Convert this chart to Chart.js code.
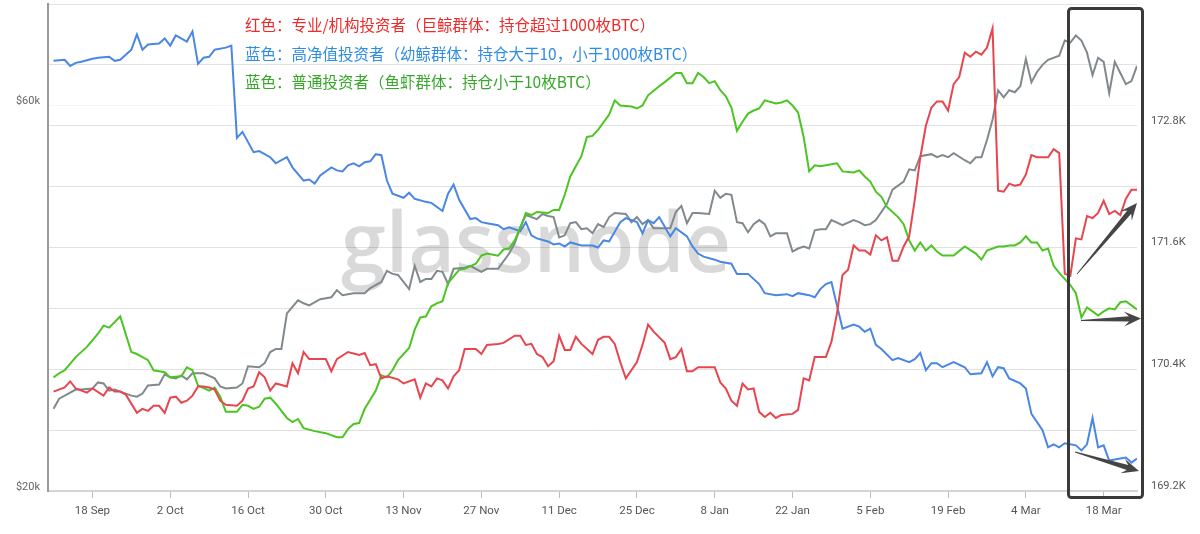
<!DOCTYPE html>
<html>
<head>
<meta charset="utf-8">
<script src="https://cdn.jsdelivr.net/npm/chart.js@4.4.1/dist/chart.umd.min.js"></script>
<style>
    html, body { margin: 0; padding: 0; background: #fff; }
    #wrap { position: relative; width: 1200px; height: 534px; overflow: hidden; }
    #chart { position: absolute; left: 0; top: 0; }
    .note {
        position: absolute;
        left: 245px;
        font-family: "Noto Sans CJK SC", sans-serif;
        font-size: 15.5px;
        line-height: 28px;
        white-space: nowrap;
    }
</style>
</head>
<body>
<div id="wrap">
    <canvas id="chart" width="1200" height="534"></canvas>
    <div class="note" style="top: 10px; color: #ee2a2a;">红色：专业/机构投资者（巨鲸群体：持仓超过1000枚BTC）</div>
    <div class="note" style="top: 39px; color: #2e8ce4;">蓝色：高净值投资者（幼鲸群体：持仓大于10，小于1000枚BTC）</div>
    <div class="note" style="top: 67px; color: #35a829;">蓝色：普通投资者（鱼虾群体：持仓小于10枚BTC）</div>
</div>
<script>
// x = days since 11 Sep 2023
const tickDays = [7, 21, 35, 49, 63, 77, 91, 105, 119, 133, 147, 161, 175, 189];
const tickLabels = ["18 Sep", "2 Oct", "16 Oct", "30 Oct", "13 Nov", "27 Nov", "11 Dec",
    "25 Dec", "8 Jan", "22 Jan", "5 Feb", "19 Feb", "4 Mar", "18 Mar"];

const rightTickValues = [169.2, 169.8, 170.4, 171.0, 171.6, 172.2, 172.8, 173.4, 174.0];
const rightTickLabels = ["169.2K", "", "170.4K", "", "171.6K", "", "172.8K", "", ""];
const leftTickValues = [20000, 60000];
const leftTickLabels = ["$20k", "$60k"];

// blue: 10 - 1000 BTC
const blueDays = [0,2,3,4,5,7,8,10,11,12, 14,15,16,17,19,20,21,22,24,25, 26,27,28,29,31,32,33,34,36,37,
    39,40,42,43,45,46,47,48,50,51, 52,53,54,55,56,57,58,59,60,61, 63,64,65,67,68,70,71,72,73,75,
    76,77,78,80,81,82,84,85,86,87, 89,90,91,92,93,95,97,98,99,100, 102,103,105,106,107,108,109,111,112,114,
    115,116,117,119,120,122,123,125,127,128, 130,132,133,134,136,137,138,139,140,142, 144,145,146,147,148,149,151,152,154,155,
    156,157,158,159,160,162,164,165,167,168, 169,170,171,172,174,175,176,178,179,180, 181,182,184,185,186,187,188,189,190,191,
    193,194,195];
const blueVals = [173.44,173.45,173.39,173.42,173.43,173.46,173.47,173.48,173.44,173.45,
    173.55,173.70,173.55,173.60,173.61,173.66,173.59,173.69,173.63,173.73,
    173.41,173.47,173.48,173.55,173.57,173.59,172.68,172.74,172.54,172.55,
    172.49,172.43,172.49,172.39,172.26,172.27,172.23,172.31,172.39,172.36,
    172.35,172.41,172.43,172.40,172.44,172.45,172.52,172.51,172.26,172.13,
    172.09,172.14,172.08,172.05,172.04,171.96,172.13,172.22,172.07,171.88,
    171.89,171.85,171.84,171.82,171.78,171.80,171.76,171.85,171.72,171.69,
    171.66,171.63,171.64,171.61,171.65,171.62,171.62,171.60,171.67,171.66,
    171.85,171.89,171.85,171.74,171.87,171.84,171.90,171.71,171.79,171.71,
    171.61,171.54,171.51,171.48,171.46,171.44,171.34,171.34,171.24,171.15,
    171.13,171.14,171.12,171.15,171.13,171.11,171.19,171.24,171.26,170.80,
    170.84,170.82,170.77,170.80,170.64,170.60,170.49,170.51,170.47,170.50,
    170.56,170.39,170.46,170.46,170.42,170.47,170.42,170.35,170.36,170.47,
    170.33,170.42,170.41,170.31,170.26,170.21,169.96,169.80,169.63,169.66,
    169.63,169.67,169.65,169.60,169.66,169.92,169.63,169.65,169.50,169.51,
    169.53,169.48,169.52];

// red: > 1000 BTC
const redDays = [0,2,3,4,6,7,9,10,11,12, 13,15,16,17,18,19,20,21,22,23, 24,25,26,27,28,29,30,31,33,34,
    35,36,37,38,39,40,42,43,44,45, 46,49,50,51,53,55,56,57,58,59, 60,62,63,65,66,67,68,69,70,71,
    72,73,74,76,77,78,80,81,83,84, 85,86,87,88,89,90,91,92,93,94, 95,97,98,99,100,101,102,103,105,106,
    107,108,110,111,112,113,114,115,116,118, 119,120,121,122,123,124,125,126,127,128, 129,130,131,133,134,135,136,137,139,140,
    141,142,143,144,145,146,147,148,149,150, 151,152,153,154,155,156,157,158,159,160, 161,162,163,164,165,166,167,168,169,170,
    171,172,173,174,175,176,177,179,180,181, 182,183,184,185,186,187,188,189,190,191, 192,193,194,195];
const redVals = [170.18,170.22,170.28,170.21,170.17,170.21,170.14,170.22,170.18,170.18,
    170.15,169.97,170.01,169.99,170.04,170.04,169.97,170.12,170.13,170.07,
    170.09,170.14,170.23,170.23,170.22,170.20,170.09,170.05,170.04,170.09,
    170.21,170.23,170.37,170.32,170.19,170.26,170.23,170.46,170.36,170.57,
    170.50,170.50,170.38,170.50,170.57,170.54,170.56,170.44,170.45,170.31,
    170.33,170.30,170.26,170.30,170.12,170.26,170.23,170.31,170.29,170.21,
    170.33,170.39,170.60,170.60,170.55,170.64,170.65,170.66,170.73,170.73,
    170.64,170.65,170.55,170.52,170.43,170.48,170.73,170.59,170.59,170.72,
    170.65,170.55,170.69,170.72,170.72,170.65,170.47,170.31,170.47,170.64,
    170.84,170.77,170.66,170.50,170.52,170.60,170.38,170.38,170.42,170.42,
    170.42,170.27,170.21,170.09,170.04,170.26,170.20,170.21,169.98,169.93,
    169.97,169.92,169.95,169.96,170.00,170.31,170.29,170.52,170.52,170.67,
    170.95,171.33,171.38,171.62,171.57,171.57,171.53,171.72,171.67,171.70,
    171.47,171.47,171.61,171.71,172.07,172.49,172.80,172.98,173.04,173.04,
    172.95,173.21,173.28,173.52,173.48,173.53,173.50,173.57,173.76,172.16,
    172.15,172.23,172.21,172.22,172.32,172.51,172.49,172.49,172.57,172.53,
    171.34,171.32,171.69,171.68,171.91,171.89,171.94,172.06,171.93,171.96,
    171.92,172.08,172.17,172.17];

// green: < 10 BTC
const greenDays = [0,1,2,4,6,8,9,10,12,14, 15,17,18,20,21,23,24,25,26,28, 29,30,31,33,34,35,36,37,38,39,
    40,42,43,44,45,47,49,51,52,53, 54,55,56,58,59,60,61,62,64,65, 66,67,68,69,70,71,73,74,76,77,
    78,80,81,82,83,84,85,86,87,89, 90,91,92,93,94,95,96,97,98,100, 101,102,104,105,106,107,109,110,112,113,
    114,115,116,117,118,119,120,121,122,123, 124,125,126,127,128,130,131,132,133,134, 135,136,137,138,140,141,142,144,145,146,
    147,148,149,150,152,153,154,155,156,157, 158,159,160,162,164,166,167,168,170,171, 172,173,174,175,176,177,178,179,180,181,
    183,184,185,186,187,188,189,190,191,192, 193,194,195];
const greenVals = [170.32,170.36,170.39,170.52,170.62,170.75,170.83,170.81,170.92,170.57,
    170.55,170.49,170.39,170.37,170.32,170.33,170.42,170.39,170.24,170.19,
    170.22,170.13,169.98,169.98,170.05,170.04,170.01,170.03,170.11,170.12,
    170.06,169.92,169.88,169.91,169.82,169.79,169.77,169.73,169.73,169.81,
    169.86,169.87,170.01,170.19,170.34,170.32,170.39,170.49,170.61,170.79,
    170.91,170.92,171.02,171.05,171.07,171.25,171.38,171.39,171.44,171.52,
    171.54,171.52,171.58,171.59,171.67,171.79,171.94,171.92,171.95,171.94,
    171.97,171.97,172.12,172.30,172.40,172.50,172.69,172.70,172.76,172.91,
    173.05,173.00,172.99,172.97,173.00,173.10,173.19,173.23,173.32,173.32,
    173.22,173.22,173.32,173.28,173.22,173.24,173.15,173.09,172.98,172.75,
    172.84,172.92,172.95,172.97,173.05,173.02,173.03,173.05,173.00,172.93,
    172.69,172.35,172.41,172.40,172.42,172.43,172.35,172.34,172.36,172.30,
    172.25,172.15,172.10,172.00,171.90,171.83,171.67,171.57,171.65,171.57,
    171.62,171.56,171.52,171.52,171.61,171.54,171.48,171.57,171.61,171.61,
    171.62,171.62,171.65,171.71,171.65,171.65,171.57,171.59,171.42,171.35,
    171.23,171.15,170.91,171.01,170.97,170.93,170.97,171.00,170.99,171.06,
    171.07,171.03,170.99];

// gray: price
const grayDays = [0,1,3,4,5,7,8,9,10,11, 12,14,15,16,17,19,20,21,22,23, 24,25,27,29,30,31,33,34,35,37,
    38,39,40,41,42,44,45,46,48,50, 51,52,53,54,56,57,59,60,61,62, 64,65,66,67,68,69,70,71,72,74,
    75,77,78,80,82,83,84,85,87,88, 89,90,91,92,93,94,95,96,97,98, 99,100,101,103,104,105,106,107,108,110,
    111,112,113,114,115,116,118,119,120,121, 122,123,124,125,126,127,128,129,130,132, 133,134,135,136,137,138,139,140,142,144,
    145,146,147,148,150,151,153,154,155,156, 158,159,160,161,162,164,165,166,167,168, 169,170,171,172,173,174,175,176,177,178,
    179,181,182,183,184,185,186,187,188,189, 190,191,192,193,194,195];
const grayVals = [170.01,170.11,170.17,170.20,170.20,170.21,170.27,170.26,170.19,170.20,
    170.18,170.14,170.13,170.16,170.24,170.25,170.35,170.32,170.31,170.34,
    170.30,170.36,170.36,170.31,170.23,170.21,170.22,170.26,170.43,170.42,
    170.46,170.57,170.60,170.60,170.95,171.08,171.05,171.03,171.09,171.11,
    171.18,171.13,171.14,171.15,171.15,171.20,171.26,171.37,171.34,171.33,
    171.19,171.42,171.26,171.29,171.29,171.37,171.36,171.24,171.39,171.40,
    171.42,171.36,171.39,171.39,171.54,171.64,171.80,171.92,171.88,171.93,
    171.91,171.90,171.70,171.72,171.84,171.85,171.78,171.79,171.74,171.83,
    171.80,171.90,171.94,171.93,171.85,171.90,171.83,171.87,171.79,171.79,
    171.79,171.95,172.01,171.84,171.94,171.94,171.93,172.16,172.09,172.13,
    172.12,171.85,171.84,171.75,171.83,171.87,171.83,171.71,171.74,171.74,
    171.56,171.59,171.61,171.59,171.77,171.78,171.78,171.87,171.82,171.87,
    171.85,171.82,171.83,171.87,172.03,172.17,172.25,172.37,172.36,172.50,
    172.52,172.49,172.51,172.49,172.53,172.46,172.43,172.49,172.49,172.66,
    172.86,173.15,173.08,173.15,173.13,173.19,173.46,173.23,173.33,173.40,
    173.45,173.49,173.64,173.62,173.69,173.64,173.52,173.30,173.47,173.43,
    173.12,173.43,173.32,173.21,173.24,173.39];

const toPoints = (days, vals) => days.map((d, i) => ({ x: d, y: vals[i] }));

function line(label, days, vals, color) {
    return {
        label: label,
        data: toPoints(days, vals),
        borderColor: color,
        borderWidth: 2,
        pointRadius: 0,
        tension: 0,
        fill: false,
        yAxisID: "y",
    };
}

// tapered arrow, thin tail -> notched head
function drawArrow(ctx, x0, y0, x1, y1) {
    const dx = x1 - x0, dy = y1 - y0;
    const len = Math.sqrt(dx * dx + dy * dy);
    const ux = dx / len, uy = dy / len;
    const nx = -uy, ny = ux;
    const head = 17, barb = 7.5, notch = 5;
    const bx = x1 - ux * head, by = y1 - uy * head;
    const nxB = x1 - ux * (head - notch), nyB = y1 - uy * (head - notch);
    ctx.beginPath();
    ctx.moveTo(x0 + nx * 0.4, y0 + ny * 0.4);
    ctx.lineTo(nxB + nx * 2.6, nyB + ny * 2.6);
    ctx.lineTo(bx + nx * barb, by + ny * barb);
    ctx.lineTo(x1, y1);
    ctx.lineTo(bx - nx * barb, by - ny * barb);
    ctx.lineTo(nxB - nx * 2.6, nyB - ny * 2.6);
    ctx.lineTo(x0 - nx * 0.4, y0 - ny * 0.4);
    ctx.closePath();
    ctx.fill();
}

const decor = {
    id: "decor",
    beforeDatasetsDraw(chart) {
        const ctx = chart.ctx;
        ctx.save();
        ctx.font = "600 84px 'Open Sans'";
        ctx.fillStyle = "rgba(0,0,0,0.15)";
        ctx.textBaseline = "alphabetic";
        const w = ctx.measureText("glassnode").width;
        ctx.translate(341, 272);
        ctx.scale(390 / w, 1);
        ctx.fillText("glassnode", 0, 0);
        ctx.restore();
    },
    afterDraw(chart) {
        const ctx = chart.ctx;
        ctx.save();
        ctx.strokeStyle = "#3a3a3a";
        ctx.lineWidth = 3;
        ctx.beginPath();
        ctx.roundRect(1068.5, 8.5, 74, 489, 3);
        ctx.stroke();
        ctx.fillStyle = "#454545";
        drawArrow(ctx, 1077, 274, 1137, 203);
        drawArrow(ctx, 1081, 320.5, 1141, 318.5);
        drawArrow(ctx, 1075, 452, 1139, 471);
        ctx.restore();
    },
};

const noPad = (scale) => {
    scale.paddingTop = 0;
    scale.paddingBottom = 0;
};

Chart.defaults.font.family = "Roboto, 'Open Sans', sans-serif";
Chart.defaults.color = "#555";

new Chart(document.getElementById("chart"), {
    type: "line",
    data: {
        datasets: [
            line("> 1000 BTC", redDays, redVals, "#e8464f"),
            line("< 10 BTC", greenDays, greenVals, "#4cc423"),
            line("10 - 1000 BTC", blueDays, blueVals, "#4a86e4"),
            line("Price", grayDays, grayVals, "#80898d"),
        ],
    },
    options: {
        responsive: false,
        animation: false,
        devicePixelRatio: 1,
        layout: { padding: { top: 4, left: 0, right: 0, bottom: 0 } },
        plugins: {
            legend: { display: false },
            tooltip: { enabled: false },
        },
        scales: {
            x: {
                type: "linear",
                min: -1,
                max: 195,
                afterBuildTicks: (axis) => {
                    axis.ticks = tickDays.map((v) => ({ value: v }));
                },
                afterFit: (scale) => {
                    scale.height = 43;
                    scale.paddingLeft = 0;
                    scale.paddingRight = 0;
                },
                ticks: {
                    autoSkip: false,
                    maxRotation: 0,
                    padding: 6,
                    font: { size: 11.5 },
                    color: "#555",
                    callback: (v, i) => tickLabels[i],
                },
                grid: {
                    drawOnChartArea: false,
                    drawTicks: true,
                    tickLength: 7,
                    color: "#bdbdbd",
                },
                border: { display: true, color: "#d4d4d4", width: 2 },
            },
            yL: {
                type: "logarithmic",
                position: "left",
                min: 20000,
                max: 80000,
                afterBuildTicks: (axis) => {
                    axis.ticks = leftTickValues.map((v) => ({ value: v }));
                },
                afterFit: (scale) => {
                    scale.width = 48;
                    noPad(scale);
                },
                ticks: {
                    padding: 8,
                    labelOffset: -4,
                    font: { size: 11 },
                    color: "#666",
                    callback: (v, i) => leftTickLabels[i],
                },
                grid: { color: "rgba(0,0,0,0.035)", drawTicks: false },
                border: { display: true, color: "#9a9a9a", width: 2 },
            },
            y: {
                type: "linear",
                position: "right",
                min: 169.2,
                max: 174.0,
                afterBuildTicks: (axis) => {
                    axis.ticks = rightTickValues.map((v) => ({ value: v }));
                },
                afterFit: (scale) => {
                    scale.width = 63;
                    noPad(scale);
                },
                ticks: {
                    padding: 14,
                    labelOffset: -5,
                    font: { size: 11 },
                    color: "#555",
                    callback: (v, i) => rightTickLabels[i],
                },
                grid: { color: "#e2e2e2", lineWidth: 1, drawTicks: false },
                border: { display: false },
            },
        },
    },
    plugins: [decor],
});
</script>
</body>
</html>
